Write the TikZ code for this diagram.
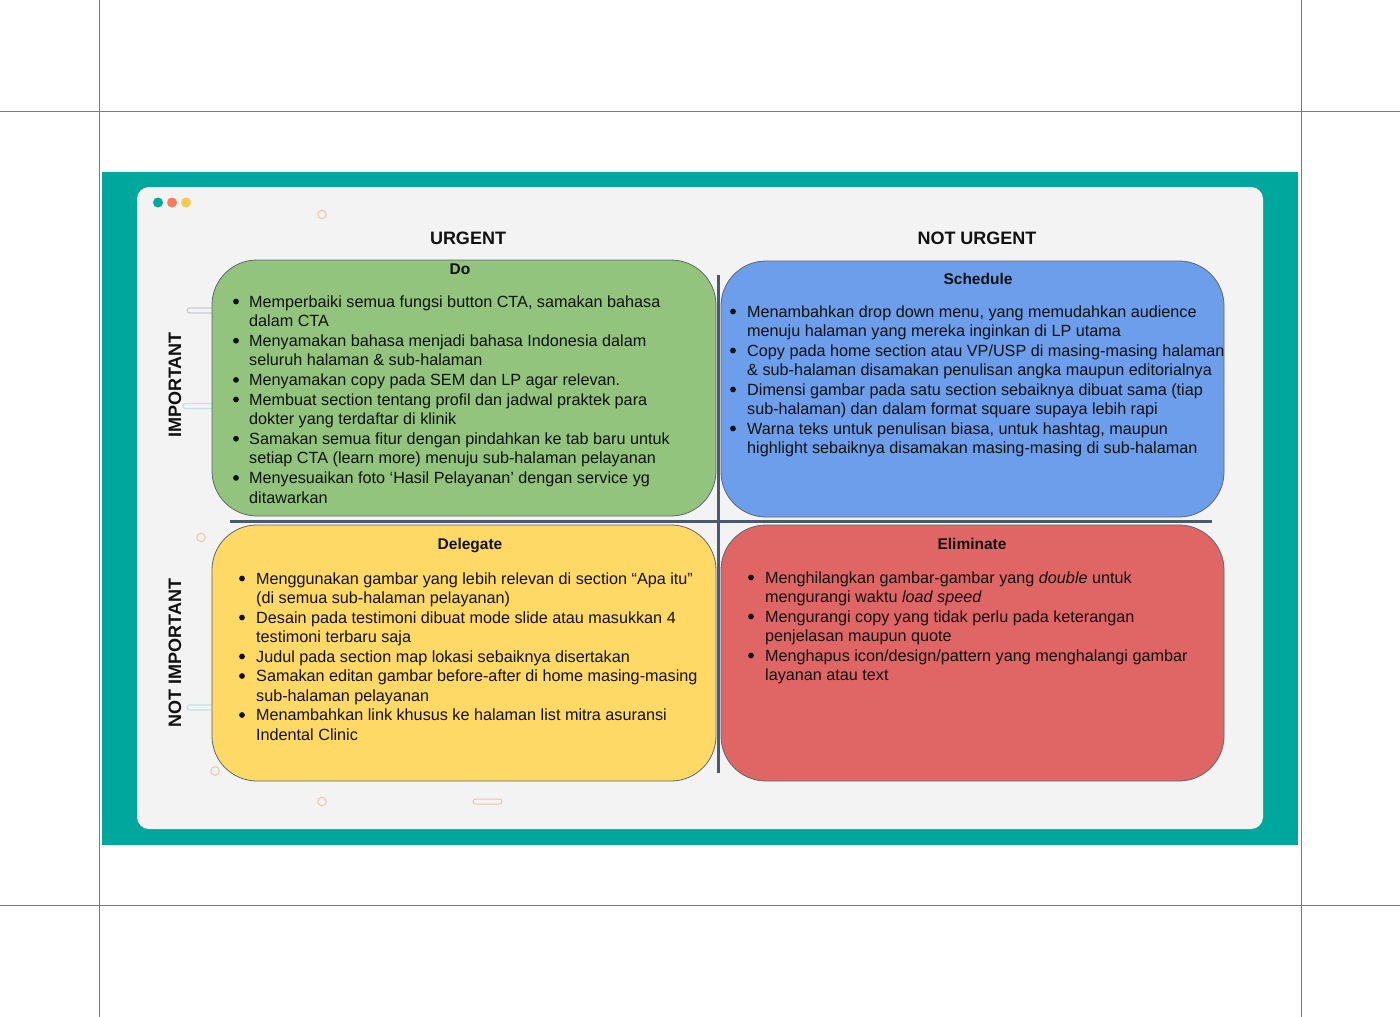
\documentclass[tikz,border=0pt]{standalone}
\usepackage{fontspec}
\setmainfont{Liberation Sans}
\definecolor{teal1}{HTML}{00A79D}
\definecolor{panel}{HTML}{F3F3F3}
\definecolor{gframe}{HTML}{7A7A7A}
\definecolor{qgreen}{HTML}{93C47D}
\definecolor{qblue}{HTML}{6D9EEB}
\definecolor{qyellow}{HTML}{FFD966}
\definecolor{qred}{HTML}{E06666}
\definecolor{crossc}{HTML}{4A5A6E}
\definecolor{boxline}{HTML}{5F6670}
\definecolor{textc}{HTML}{111111}
\definecolor{dotorange}{HTML}{FF7A59}
\definecolor{dotyellow}{HTML}{F4C94F}
\definecolor{deco}{HTML}{F3C2A6}
\definecolor{pillcyan}{HTML}{BFE3E6}
\definecolor{pillgray}{HTML}{C8CDD2}
\newcounter{lnc}
\newcommand\tline[3]{\stepcounter{lnc}\node[txt] (ln\arabic{lnc}) at (#1,#2) {#3};}
\newcommand\bul[2]{\fill[textc] (#1,#2) circle (2.9);}
\begin{document}
\begin{tikzpicture}[x=1pt,y=-1pt,
  txt/.style={anchor=base west, inner sep=0pt, font=\fontsize{16.2}{19.5}\selectfont, text=textc},
  quad/.style={draw=boxline, line width=0.8pt, rounded corners=45pt},
  ttl/.style={inner sep=0pt, font=\fontsize{15.5}{18}\selectfont\bfseries, text=textc},
  head/.style={inner sep=0pt, font=\fontsize{18}{20}\selectfont\bfseries, text=textc},
  decoc/.style={draw=deco, line width=1pt},
  pill/.style={line width=1.2pt, rounded corners=2.5pt}]
\useasboundingbox (0,0) rectangle (1400,1017);
\fill[white] (0,0) rectangle (1400,1017);
% frame lines
\draw[gframe, line width=0.8pt] (0,111) -- (1400,111);
\draw[gframe, line width=0.8pt] (0,905) -- (1400,905);
\draw[gframe, line width=0.8pt] (99,0) -- (99,1017);
\draw[gframe, line width=0.8pt] (1301,0) -- (1301,1017);
% teal slide and panel
\fill[teal1] (102,172) rectangle (1298,845);
\fill[panel, rounded corners=12pt] (137,187) rectangle (1263,829);
% window dots
\fill[teal1] (158,202.5) circle (5);
\fill[dotorange] (172,202.5) circle (5);
\fill[dotyellow] (186,202.5) circle (5);
% decorations
\draw[decoc] (322,214.5) circle (4.3);
\draw[decoc] (201,537.5) circle (4.3);
\draw[decoc] (215,771) circle (4.3);
\draw[decoc] (322,801.5) circle (4.3);
\draw[decoc, rounded corners=2.5pt] (473,799) rectangle (502,804);
\draw[pill, draw=pillgray] (187,308) rectangle (216,313);
\draw[pill, draw=pillcyan] (183,403.5) rectangle (216,408.5);
\draw[pill, draw=pillcyan] (187,705) rectangle (216,710);
% headings
\node[head] (urg) at (468,238) {URGENT};
\node[head] (nurg) at (977,238) {NOT URGENT};
\node[head, rotate=90] (imp) at (175,385) {IMPORTANT};
\node[head, rotate=90] (nimp) at (175,653) {NOT IMPORTANT};
% quadrants
\draw[quad, fill=qgreen] (212,260) rectangle (716,516);
\draw[quad, fill=qblue] (721,261) rectangle (1224,517);
\draw[quad, fill=qyellow] (212,525) rectangle (716,781);
\draw[quad, fill=qred] (721,525) rectangle (1224,781);
% cross
\draw[crossc, line width=3pt] (718,275) -- (718,773);
\draw[crossc, line width=3pt] (230,521) -- (1212,521);
% titles
\node[ttl] (tdo) at (460,269) {Do};
\node[ttl] (tsch) at (978,279) {Schedule};
\node[ttl] (tdel) at (470,546) {Delegate};
\node[ttl] (telim) at (972,544) {Eliminate};
% Do
\bul{236}{301.5}
\tline{249}{307}{Memperbaiki semua fungsi button CTA, samakan bahasa}
\tline{249}{326.6}{dalam CTA}
\bul{236}{340.7}
\tline{249}{346.2}{Menyamakan bahasa menjadi bahasa Indonesia dalam}
\tline{249}{365.8}{seluruh halaman \& sub-halaman}
\bul{236}{379.9}
\tline{249}{385.4}{Menyamakan copy pada SEM dan LP agar relevan.}
\bul{236}{399.5}
\tline{249}{405}{Membuat section tentang profil dan jadwal praktek para}
\tline{249}{424.6}{dokter yang terdaftar di klinik}
\bul{236}{438.7}
\tline{249}{444.2}{Samakan semua fitur dengan pindahkan ke tab baru untuk}
\tline{249}{463.8}{setiap CTA (learn more) menuju sub-halaman pelayanan}
\bul{236}{477.9}
\tline{249}{483.4}{Menyesuaikan foto ‘Hasil Pelayanan’ dengan service yg}
\tline{249}{503}{ditawarkan}
% Schedule
\bul{733}{311.5}
\tline{747}{317}{Menambahkan drop down menu, yang memudahkan audience}
\tline{747}{336.5}{menuju halaman yang mereka inginkan di LP utama}
\bul{733}{350.5}
\tline{747}{356}{Copy pada home section atau VP/USP di masing-masing halaman}
\tline{747}{375.5}{\& sub-halaman disamakan penulisan angka maupun editorialnya}
\bul{733}{389.5}
\tline{747}{395}{Dimensi gambar pada satu section sebaiknya dibuat sama (tiap}
\tline{747}{414.5}{sub-halaman) dan dalam format square supaya lebih rapi}
\bul{733}{428.5}
\tline{747}{434}{Warna teks untuk penulisan biasa, untuk hashtag, maupun}
\tline{747}{453.5}{highlight sebaiknya disamakan masing-masing di sub-halaman}
% Delegate
\bul{242}{578.5}
\tline{256}{584}{Menggunakan gambar yang lebih relevan di section “Apa itu”}
\tline{256}{603.5}{(di semua sub-halaman pelayanan)}
\bul{242}{617.5}
\tline{256}{623}{Desain pada testimoni dibuat mode slide atau masukkan 4}
\tline{256}{642.5}{testimoni terbaru saja}
\bul{242}{656.5}
\tline{256}{662}{Judul pada section map lokasi sebaiknya disertakan}
\bul{242}{676}
\tline{256}{681.5}{Samakan editan gambar before-after di home masing-masing}
\tline{256}{701}{sub-halaman pelayanan}
\bul{242}{715}
\tline{256}{720.5}{Menambahkan link khusus ke halaman list mitra asuransi}
\tline{256}{740}{Indental Clinic}
% Eliminate
\bul{751}{577.5}
\tline{765}{583}{Menghilangkan gambar-gambar yang \textit{double} untuk}
\tline{765}{602.5}{mengurangi waktu \textit{load speed}}
\bul{751}{616.5}
\tline{765}{622}{Mengurangi copy yang tidak perlu pada keterangan}
\tline{765}{641.5}{penjelasan maupun quote}
\bul{751}{655.5}
\tline{765}{661}{Menghapus icon/design/pattern yang menghalangi gambar}
\tline{765}{680.5}{layanan atau text}
\end{tikzpicture}
\end{document}
